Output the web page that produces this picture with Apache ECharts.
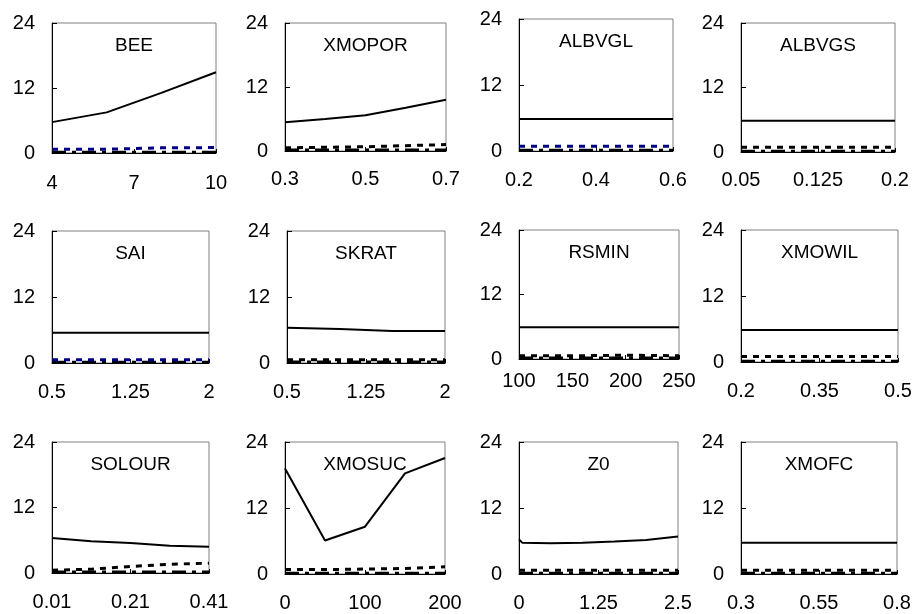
<!DOCTYPE html>
<html>
<head>
<meta charset="utf-8">
<script src="https://cdn.jsdelivr.net/npm/echarts@6/dist/echarts.min.js"></script>
<style>
html, body { margin: 0; padding: 0; background: #fff; }
#main { width: 912px; height: 614px; }
</style>
</head>
<body>
<div id="main"></div>
<script>
let chart = echarts.init(document.getElementById('main'));

// panel names
let titles = ['BEE', 'XMOPOR', 'ALBVGL', 'ALBVGS', 'SAI', 'SKRAT', 'RSMIN', 'XMOWIL', 'SOLOUR', 'XMOSUC', 'Z0', 'XMOFC'];

// x tick labels per panel
let xTicks = [
    [4, 7, 10], [0.3, 0.5, 0.7], [0.2, 0.4, 0.6], [0.05, 0.125, 0.2],
    [0.5, 1.25, 2], [0.5, 1.25, 2], [100, 150, 200, 250], [0.2, 0.35, 0.5],
    [0.01, 0.21, 0.41], [0, 100, 200], [0, 1.25, 2.5], [0.3, 0.55, 0.8]
];
let yTicks = [0, 12, 24];

// x points per panel
let xPoints = [
    [4, 6, 8, 10],
    [0.3, 0.4, 0.5, 0.6, 0.7],
    [0.2, 0.3, 0.4, 0.5, 0.6],
    [0.05, 0.1, 0.15, 0.2],
    [0.5, 1, 1.5, 2],
    [0.5, 1, 1.5, 2],
    [100, 150, 200, 250],
    [0.2, 0.3, 0.4, 0.5],
    [0.01, 0.11, 0.21, 0.31, 0.41],
    [0, 50, 100, 150, 200],
    [0, 0.05, 0.5, 1, 1.5, 2, 2.5],
    [0.3, 0.4, 0.5, 0.6, 0.7, 0.8]
];

// solid line
let mainLine = [
    [5.7, 7.5, 11.1, 14.9],
    [5.4, 6.0, 6.7, 8.1, 9.6],
    [5.8, 5.8, 5.8, 5.8, 5.8],
    [5.8, 5.8, 5.8, 5.8],
    [5.5, 5.5, 5.5, 5.5],
    [6.4, 6.2, 5.8, 5.8],
    [5.9, 5.9, 5.9, 5.9],
    [5.8, 5.8, 5.8, 5.8],
    [6.4, 5.8, 5.5, 5.0, 4.8],
    [19.2, 6.1, 8.6, 18.3, 21.1],
    [6.3, 5.7, 5.6, 5.7, 5.9, 6.2, 6.8],
    [5.7, 5.7, 5.7, 5.7, 5.7, 5.7]
];

// dotted line
let dashLine = [
    [0.7, 0.7, 0.95, 1.0],
    [0.6, 0.7, 0.8, 1.0, 1.2],
    [0.85, 0.85, 0.85, 0.85, 0.85],
    [0.9, 0.9, 0.9, 0.9],
    [0.6, 0.6, 0.6, 0.6],
    [0.6, 0.6, 0.6, 0.6],
    [0.6, 0.6, 0.7, 0.6],
    [1.0, 1.0, 1.0, 1.0],
    [0.5, 0.7, 1.2, 1.6, 1.8],
    [0.8, 0.8, 0.9, 1.0, 1.3],
    [0.7, 0.7, 0.7, 0.7, 0.7, 0.7, 0.7],
    [0.7, 0.7, 0.7, 0.7, 0.7, 0.7]
];

// line along zero
let baseLine = [
    [0.15, 0.15, 0.15, 0.15],
    [0.2, 0.2, 0.2, 0.2, 0.2],
    [0.15, 0.15, 0.15, 0.15, 0.15],
    [0.15, 0.15, 0.15, 0.15],
    [0.15, 0.15, 0.15, 0.15],
    [0.2, 0.2, 0.2, 0.2],
    [0.2, 0.2, 0.2, 0.2],
    [0.15, 0.15, 0.15, 0.15],
    [0.2, 0.2, 0.2, 0.2, 0.2],
    [0.15, 0.15, 0.15, 0.15, 0.15],
    [0.15, 0.15, 0.15, 0.15, 0.15, 0.15, 0.15],
    [0.15, 0.15, 0.15, 0.15, 0.15, 0.15]
];

let dashBlue = [true, false, true, false, true, false, false, false, false, false, false, false];

// layout: left, top, right, bottom, x label margin
let boxes = [
    [52, 23, 216, 153, 20], [285, 23, 446, 151, 18], [519, 19, 673, 151, 19], [741, 23, 895, 152, 18],
    [52, 231, 209, 363, 19], [287, 231, 445, 363, 19], [519, 230, 679, 359, 12], [741, 230, 898, 362, 19],
    [52, 442, 209, 573, 19], [285, 442, 445, 574, 19], [519, 442, 678, 574, 19], [741, 442, 897, 574, 19]
];

let font = "'Liberation Sans', Arial, sans-serif";

let grids = [], xAxes = [], yAxes = [], series = [], texts = [];

for (let i = 0; i < titles.length; i++) {
    let b = boxes[i];
    let ticks = xTicks[i];
    grids.push({
        left: b[0], top: b[1], width: b[2] - b[0], height: b[3] - b[1],
        show: true, borderColor: '#808080', borderWidth: 1,
        outerBoundsMode: 'none'
    });
    xAxes.push({
        type: 'value', gridIndex: i,
        min: ticks[0], max: ticks[ticks.length - 1],
        splitLine: {show: false},
        axisLine: {lineStyle: {color: '#000', width: 1}},
        axisTick: {inside: true, length: 4, customValues: ticks, lineStyle: {color: '#000'}},
        axisLabel: {customValues: ticks, margin: b[4], color: '#000', fontSize: 20, fontFamily: font}
    });
    yAxes.push({
        type: 'value', gridIndex: i,
        min: 0, max: 24, interval: 12,
        splitLine: {show: false},
        axisLine: {show: true, lineStyle: {color: '#000', width: 1}},
        axisTick: {inside: true, length: 5, lineStyle: {color: '#000'}},
        axisLabel: {margin: 17, color: '#000', fontSize: 20, fontFamily: font}
    });
    let pts = xPoints[i];
    series.push({
        type: 'line', xAxisIndex: i, yAxisIndex: i, symbol: 'none', silent: true,
        data: pts.map((x, j) => [x, baseLine[i][j]]),
        lineStyle: {color: '#000', width: 3, type: [14, 6, 4, 6]}
    });
    series.push({
        type: 'line', xAxisIndex: i, yAxisIndex: i, symbol: 'none', silent: true,
        data: pts.map((x, j) => [x, dashLine[i][j]]),
        lineStyle: {color: dashBlue[i] ? '#000080' : '#000', width: 3, type: [6, 6]}
    });
    series.push({
        type: 'line', xAxisIndex: i, yAxisIndex: i, symbol: 'none', silent: true,
        data: pts.map((x, j) => [x, mainLine[i][j]]),
        lineStyle: {color: '#000', width: 2}
    });
    texts.push({
        type: 'text', silent: true,
        x: (b[0] + b[2]) / 2, y: b[1] + 23,
        style: {text: titles[i], fill: '#000', fontSize: 19, fontFamily: font, textAlign: 'center', textVerticalAlign: 'middle'}
    });
}

chart.setOption({
    animation: false,
    backgroundColor: '#fff',
    grid: grids,
    xAxis: xAxes,
    yAxis: yAxes,
    series: series,
    graphic: texts
});
</script>
</body>
</html>
